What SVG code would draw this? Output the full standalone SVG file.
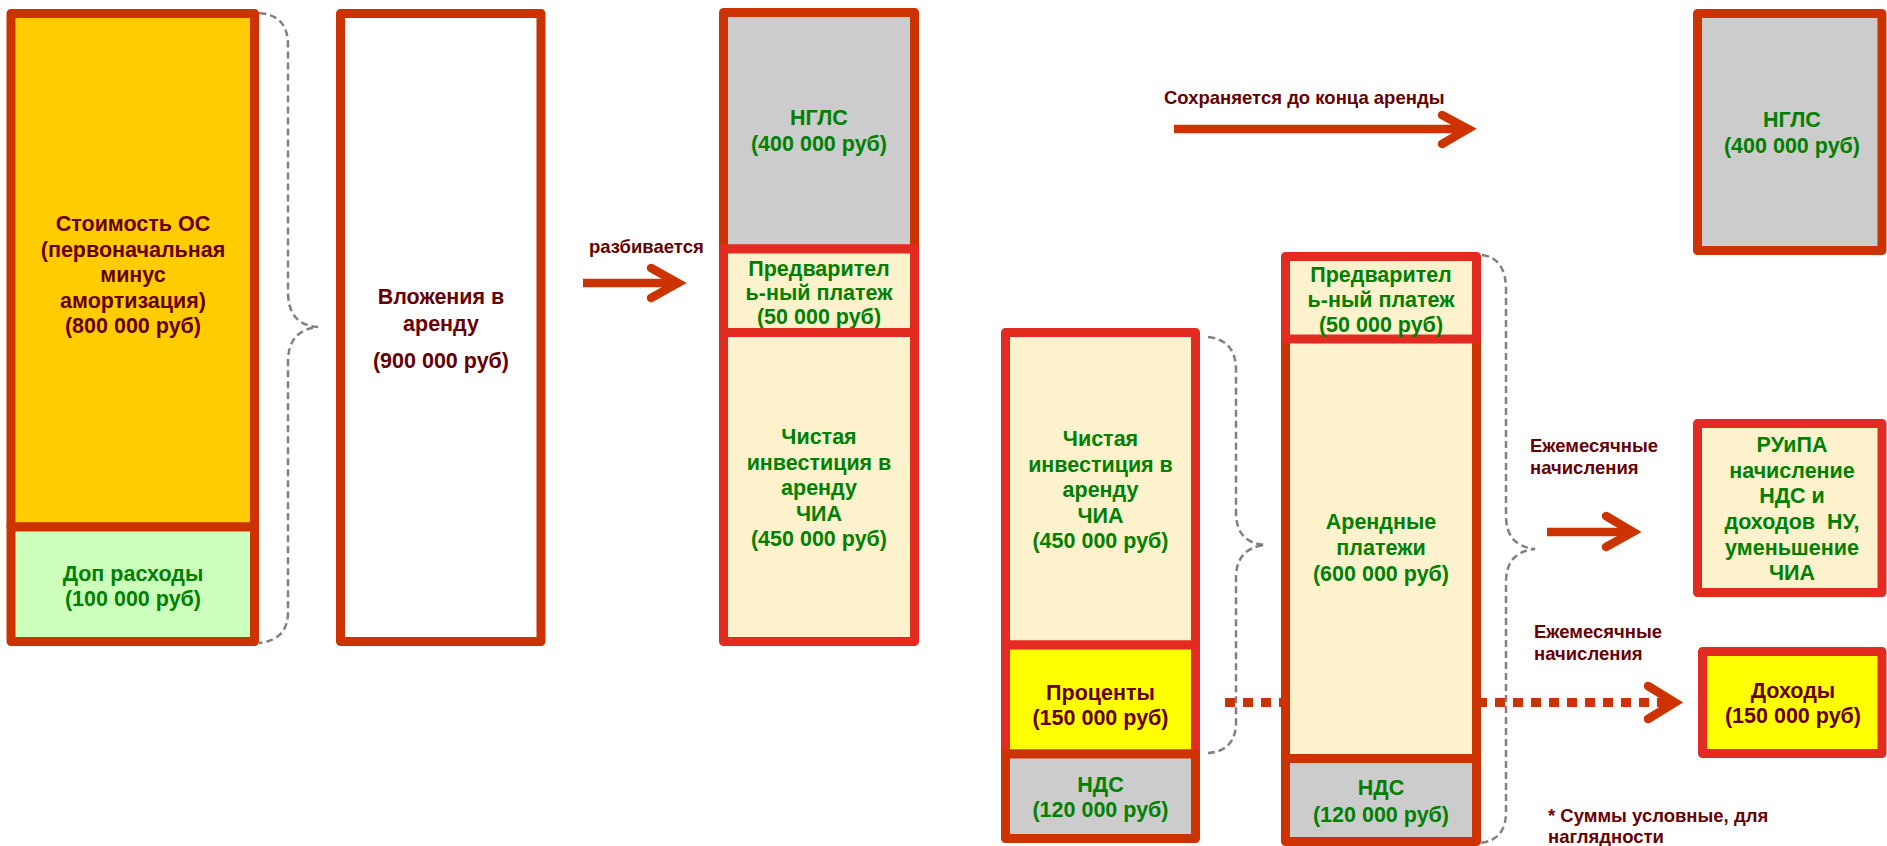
<svg xmlns="http://www.w3.org/2000/svg" width="1887" height="846" viewBox="0 0 1887 846">
<style>
text{font-family:"Liberation Sans",Arial,sans-serif;font-weight:bold;text-anchor:middle}
.m{font-size:21.5px}
.l{font-size:18.5px;text-anchor:start;fill:#660000}
.g{fill:#008000}
.r{fill:#660000}
.bo{stroke:#CC3300;stroke-width:9;stroke-linejoin:round}
.br{stroke:#E32B22;stroke-width:9;stroke-linejoin:round}
.f-or{fill:#FFCC00}.f-lg{fill:#CCFFBB}.f-gr{fill:#CCCCCC}.f-cr{fill:#FDF2CC}.f-ye{fill:#FFFF00}.f-wh{fill:#FFFFFF}
.arr{fill:none;stroke:#CC3300;stroke-width:8.5}
.chev{fill:none;stroke:#CC3300;stroke-width:8.5;stroke-linecap:round;stroke-linejoin:miter;stroke-miterlimit:10}
.dot{fill:none;stroke:#CC3300;stroke-width:9;stroke-dasharray:10 8}
.brace{fill:none;stroke:#808080;stroke-width:2.5;stroke-dasharray:7 4}
</style>
<rect width="1887" height="846" fill="#FFFFFF"/>
<g id="connectors">
  <path class="arr" d="M583,283 H678"/>
  <path class="chev" d="M651,268 L678,283 L651,298"/>
  <path class="arr" d="M1174,129 H1468"/>
  <path class="chev" d="M1442,115 L1468,129 L1442,144"/>
  <path class="arr" d="M1547,532 H1633"/>
  <path class="chev" d="M1606,516 L1633,532 L1606,547"/>
  <path class="dot" d="M1225,702.5 H1672"/>
  <path class="chev" d="M1648,686 L1675,702.5 L1648,719"/>
  <path class="brace" d="M259,13 Q288,15 288,45 L288,292 Q288,325 318,327 Q288,330 288,362 L288,612 Q288,640 259,643"/>
  <path class="brace" d="M1208,337 Q1236,340 1236,370 L1236,512 Q1236,543 1265,545 Q1236,548 1236,578 L1236,722 Q1236,751 1208,753"/>
  <path class="brace" d="M1482,255 Q1506,258 1506,290 L1506,516 Q1506,546 1535,549 Q1506,552 1506,582 L1506,812 Q1506,840 1480,843"/>
</g>
<g id="label-razbivaetsya"><text class="l" x="589" y="253">разбивается</text></g>
<g id="label-sohranyaetsya"><text class="l" x="1164" y="104">Сохраняется до конца аренды</text></g>
<g id="label-monthly1"><text class="l" x="1530" y="452">Ежемесячные</text><text class="l" x="1530" y="474">начисления</text></g>
<g id="label-monthly2"><text class="l" x="1534" y="638">Ежемесячные</text><text class="l" x="1534" y="660">начисления</text></g>
<g id="note"><text class="l" x="1548" y="822">* Суммы условные, для</text><text class="l" x="1548" y="843">наглядности</text></g>

<g id="os-cost">
  <rect class="bo f-or" x="11" y="13.5" width="243.5" height="513.5"/>
  <text class="m r" x="133" y="231">Стоимость ОС</text>
  <text class="m r" x="133" y="256.5">(первоначальная</text>
  <text class="m r" x="133" y="282">минус</text>
  <text class="m r" x="133" y="307.5">амортизация)</text>
  <text class="m r" x="133" y="333">(800 000 руб)</text>
</g>
<g id="extra-costs">
  <rect class="bo f-lg" x="11" y="527" width="243.5" height="114.5"/>
  <text class="m g" x="133" y="581">Доп расходы</text>
  <text class="m g" x="133" y="606">(100 000 руб)</text>
</g>
<g id="investment">
  <rect class="bo f-wh" x="340.5" y="13.5" width="200.5" height="628"/>
  <text class="m r" x="441" y="304">Вложения в</text>
  <text class="m r" x="441" y="331">аренду</text>
  <text class="m r" x="441" y="368">(900 000 руб)</text>
</g>
<g id="nglс-1">
  <rect class="bo f-gr" x="723.5" y="12.5" width="191" height="236.5"/>
  <text class="m g" x="819" y="125">НГЛС</text>
  <text class="m g" x="819" y="150.5">(400 000 руб)</text>
</g>
<g id="prepay-1">
  <rect class="br f-cr" x="723.5" y="249" width="191" height="83.5"/>
  <text class="m g" x="819" y="276">Предварител</text>
  <text class="m g" x="819" y="300">ь-ный платеж</text>
  <text class="m g" x="819" y="324">(50 000 руб)</text>
</g>
<g id="chia-1">
  <rect class="br f-cr" x="723.5" y="332.5" width="191" height="309"/>
  <text class="m g" x="819" y="444">Чистая</text>
  <text class="m g" x="819" y="469.5">инвестиция в</text>
  <text class="m g" x="819" y="495">аренду</text>
  <text class="m g" x="819" y="520.5">ЧИА</text>
  <text class="m g" x="819" y="546">(450 000 руб)</text>
</g>
<g id="chia-2">
  <rect class="br f-cr" x="1005.5" y="332.5" width="190" height="312.5"/>
  <text class="m g" x="1100.5" y="446">Чистая</text>
  <text class="m g" x="1100.5" y="471.5">инвестиция в</text>
  <text class="m g" x="1100.5" y="497">аренду</text>
  <text class="m g" x="1100.5" y="522.5">ЧИА</text>
  <text class="m g" x="1100.5" y="548">(450 000 руб)</text>
</g>
<g id="interest">
  <rect class="br f-ye" x="1005.5" y="645" width="190" height="109"/>
  <text class="m r" x="1100.5" y="700">Проценты</text>
  <text class="m r" x="1100.5" y="725">(150 000 руб)</text>
</g>
<g id="vat-1">
  <rect class="bo f-gr" x="1005.5" y="754" width="190" height="84.5"/>
  <text class="m g" x="1100.5" y="792">НДС</text>
  <text class="m g" x="1100.5" y="817">(120 000 руб)</text>
</g>
<g id="lease-payments">
  <rect class="bo f-cr" x="1285.5" y="338.5" width="191" height="420"/>
  <text class="m g" x="1381" y="529">Арендные</text>
  <text class="m g" x="1381" y="555">платежи</text>
  <text class="m g" x="1381" y="581">(600 000 руб)</text>
</g>
<g id="vat-2">
  <rect class="bo f-gr" x="1285.5" y="758.5" width="191" height="83"/>
  <text class="m g" x="1381" y="795">НДС</text>
  <text class="m g" x="1381" y="822">(120 000 руб)</text>
</g>
<g id="prepay-2">
  <rect class="br f-cr" x="1285.5" y="256.5" width="191" height="82.5"/>
  <text class="m g" x="1381" y="282">Предварител</text>
  <text class="m g" x="1381" y="307">ь-ный платеж</text>
  <text class="m g" x="1381" y="332">(50 000 руб)</text>
</g>
<g id="nglс-2">
  <rect class="bo f-gr" x="1697.5" y="13.5" width="184.5" height="237"/>
  <text class="m g" x="1792" y="127">НГЛС</text>
  <text class="m g" x="1792" y="153">(400 000 руб)</text>
</g>
<g id="ruipa">
  <rect class="br f-cr" x="1697.5" y="423.5" width="184.5" height="169"/>
  <text class="m g" x="1792" y="452">РУиПА</text>
  <text class="m g" x="1792" y="478">начисление</text>
  <text class="m g" x="1792" y="503">НДС и</text>
  <text class="m g" x="1792" y="529" style="white-space:pre">доходов  НУ,</text>
  <text class="m g" x="1792" y="555">уменьшение</text>
  <text class="m g" x="1792" y="580">ЧИА</text>
</g>
<g id="income">
  <rect class="br f-ye" x="1702.5" y="651.5" width="179.5" height="102"/>
  <text class="m r" x="1793" y="698">Доходы</text>
  <text class="m r" x="1793" y="723">(150 000 руб)</text>
</g>
</svg>
